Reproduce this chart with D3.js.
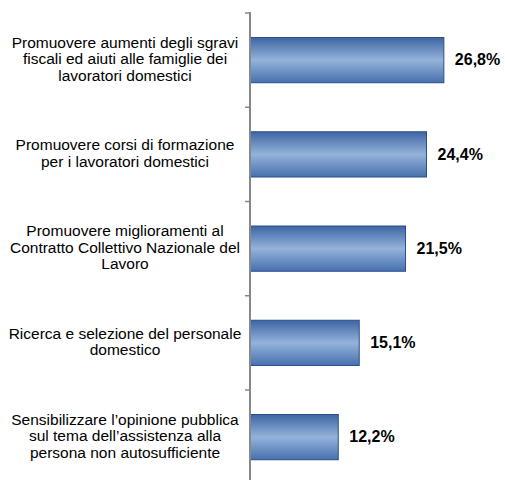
<!DOCTYPE html>
<html><head><meta charset="utf-8">
<script src="https://cdn.jsdelivr.net/npm/d3@7"></script>
<style>body{margin:0;background:#fff}svg{display:block}</style>
</head><body>
<script>
const categories = [
  ["Promuovere aumenti degli sgravi","fiscali ed aiuti alle famiglie dei","lavoratori domestici"],
  ["Promuovere corsi di formazione","per i lavoratori domestici"],
  ["Promuovere miglioramenti al","Contratto Collettivo Nazionale del","Lavoro"],
  ["Ricerca e selezione del personale","domestico"],
  ["Sensibilizzare l\u2019opinione pubblica","sul tema dell\u2019assistenza alla","persona non autosufficiente"]
];
const values = [26.8, 24.4, 21.5, 15.1, 12.2];
const valueLabels = ["26,8%","24,4%","21,5%","15,1%","12,2%"];

const W = 505, H = 480;
const svg = d3.select("body").append("svg").attr("width", W).attr("height", H);

const x0 = 250;
const x = d3.scaleLinear().domain([0, 30]).range([x0, x0 + 217]);
const y = d3.scaleBand().domain(d3.range(values.length)).range([13, 13 + 94.25*5]).paddingInner(0.52).paddingOuter(0.26);

const defs = svg.append("defs");
const g = defs.append("linearGradient").attr("id","bg").attr("x1",0).attr("x2",0).attr("y1",0).attr("y2",1);
g.append("stop").attr("offset","0%").attr("stop-color","#3d65a4");
g.append("stop").attr("offset","50%").attr("stop-color","#95b3da");
g.append("stop").attr("offset","100%").attr("stop-color","#4670ae");

svg.selectAll("rect.bar").data(values).join("rect").attr("class","bar")
  .attr("x", x(0)).attr("y", (d,i)=>y(i)).attr("width", d=>x(d)-x(0)).attr("height", y.bandwidth())
  .attr("fill","url(#bg)").attr("stroke","#2b4f8a").attr("stroke-width",1);

// axis
const step = 94.25;
const ticks = d3.range(values.length+1).map(i => 13 + i*step);
svg.append("line").attr("x1",x0).attr("x2",x0).attr("y1",12).attr("y2",H).attr("stroke","#888").attr("stroke-width",2);
svg.selectAll("line.tick").data(ticks).join("line").attr("class","tick")
  .attr("x1",x0-5).attr("x2",x0).attr("y1",d=>d).attr("y2",d=>d).attr("stroke","#888").attr("stroke-width",1.5);

svg.selectAll("text.val").data(values).join("text").attr("class","val")
  .attr("x", d=>x(d)+11).attr("y",(d,i)=>y(i)+y.bandwidth()/2+1)
  .attr("dominant-baseline","middle")
  .attr("font-family","Liberation Sans, Arial, sans-serif").attr("font-weight","bold").attr("font-size",16)
  .attr("fill","#000").text((d,i)=>valueLabels[i]);

const lh = 16.7;
categories.forEach((lines,i)=>{
  const cy = y(i)+y.bandwidth()/2;
  const t = svg.append("text").attr("text-anchor","middle")
    .attr("font-family","Liberation Sans, Arial, sans-serif").attr("font-size",15.5).attr("fill","#000");
  lines.forEach((l,j)=>{
    t.append("tspan").attr("x",125).attr("y", cy + (j-(lines.length-1)/2)*lh).attr("dominant-baseline","middle").text(l);
  });
});
</script>
</body></html>
